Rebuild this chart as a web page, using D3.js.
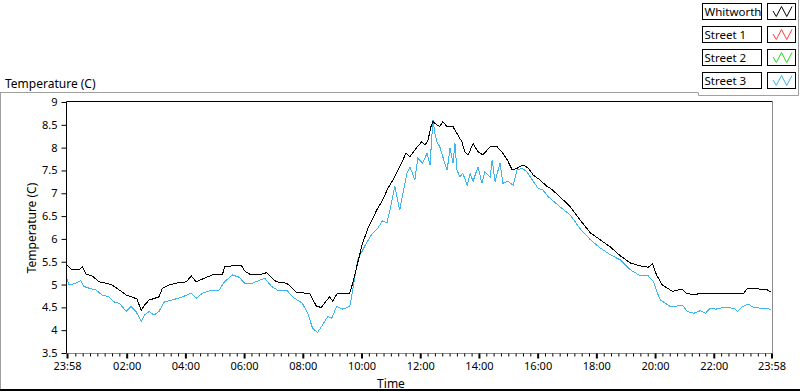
<!DOCTYPE html>
<html><head><meta charset="utf-8">
<script src="https://cdn.jsdelivr.net/npm/d3@7"></script>
<style>
body{margin:0;background:#fff}
svg{display:block}
text{font-family:"Noto Sans",sans-serif;fill:#000}
</style>
</head><body>
<svg id="c" width="800" height="392"></svg>
<script>
// ---------- data ----------
const seriesNames  = ["Whitworth", "Street 1", "Street 2", "Street 3"];
const seriesColors = ["#000000", "#ff3c3c", "#22dd22", "#3cb4f0"];

const whitworthTimes = ["23:58","00:08","00:23","00:29","00:37","00:49","01:04","01:18","01:30","01:45","01:59","02:11","02:21","02:30","02:36","02:46","03:06","03:13","03:27","03:41","04:02","04:12","04:22","04:43","04:55","05:16","05:20","05:36","05:55","06:01","06:11","06:31","06:46","06:52","07:06","07:27","07:39","07:47","08:14","08:28","08:38","08:49","08:55","09:01","09:11","09:36","09:42","09:52","10:02","10:13","10:31","10:43","10:54","11:04","11:18","11:31","11:39","11:49","12:03","12:10","12:16","12:22","12:26","12:34","12:40","12:46","12:55","13:07","13:15","13:25","13:31","13:38","13:48","13:58","14:08","14:23","14:37","14:47","14:58","15:08","15:18","15:30","15:41","15:51","16:05","16:19","16:26","16:46","17:07","17:27","17:48","18:08","18:29","18:49","19:10","19:30","19:46","19:55","20:03","20:11","20:15","20:25","20:36","20:46","20:56","21:02","21:19","21:33","23:01","23:09","23:36","23:50","23:58"];
const whitworthTemps = [5.43,5.32,5.32,5.39,5.23,5.19,5.06,5.03,4.99,4.88,4.77,4.73,4.68,4.43,4.55,4.66,4.73,4.92,4.99,5.03,5.06,5.19,5.06,5.16,5.21,5.23,5.39,5.41,5.41,5.30,5.23,5.21,5.26,5.19,5.06,5.03,4.92,4.82,4.81,4.52,4.50,4.66,4.73,4.64,4.81,4.81,5.03,5.47,5.90,6.23,6.63,6.85,7.11,7.29,7.58,7.88,7.80,7.95,8.13,8.06,8.17,8.46,8.57,8.50,8.46,8.57,8.46,8.46,8.31,8.13,7.91,7.84,8.09,7.91,7.84,8.02,8.02,7.91,7.73,7.51,7.55,7.62,7.55,7.40,7.29,7.15,7.11,6.92,6.70,6.41,6.13,5.98,5.82,5.63,5.47,5.41,5.38,5.45,5.21,5.06,4.99,4.92,4.85,4.88,4.90,4.82,4.77,4.81,4.81,4.92,4.90,4.88,4.83];

const street1Times = [];
const street1Temps = [];
const street2Times = [];
const street2Temps = [];

const street3Times = ["23:58","00:02","00:16","00:26","00:32","00:43","00:57","01:10","01:24","01:34","01:45","01:59","02:09","02:19","02:30","02:36","02:46","02:56","03:06","03:17","03:33","03:54","04:12","04:22","04:35","04:55","05:09","05:20","05:36","05:50","06:01","06:17","06:31","06:42","06:56","07:08","07:27","07:39","07:59","08:10","08:20","08:30","08:40","08:51","08:59","09:09","09:22","09:36","09:42","09:52","10:07","10:21","10:33","10:43","10:52","10:58","11:08","11:18","11:33","11:39","11:49","11:55","12:05","12:14","12:20","12:26","12:30","12:34","12:40","12:46","12:55","13:01","13:07","13:11","13:15","13:21","13:27","13:36","13:42","13:48","13:58","14:06","14:12","14:23","14:27","14:33","14:43","14:49","14:59","15:10","15:18","15:28","15:38","15:51","16:01","16:11","16:21","16:46","17:07","17:27","17:48","18:08","18:29","18:49","19:10","19:30","19:46","19:57","20:05","20:11","20:21","20:31","20:46","20:56","21:06","21:19","21:33","21:43","21:53","22:04","22:20","22:41","22:49","22:59","23:11","23:21","23:36","23:58"];
const street3Temps = [5.11,4.99,5.03,5.09,4.96,4.92,4.88,4.77,4.73,4.62,4.59,4.41,4.52,4.41,4.19,4.33,4.41,4.33,4.41,4.62,4.66,4.73,4.81,4.70,4.81,4.88,4.88,5.06,5.21,5.16,5.03,5.03,5.09,5.14,4.96,4.88,4.88,4.73,4.59,4.37,4.04,3.95,4.11,4.30,4.26,4.52,4.46,4.52,4.88,5.54,5.85,6.10,6.23,6.40,6.35,6.63,7.15,6.63,7.44,7.58,7.29,7.77,7.66,7.88,7.62,8.61,8.31,8.13,8.02,7.80,7.51,7.99,7.66,8.09,7.51,7.36,7.44,7.18,7.44,7.26,7.58,7.22,7.47,7.36,7.73,7.26,7.66,7.22,7.26,7.18,7.51,7.55,7.47,7.26,7.11,7.07,6.93,6.70,6.52,6.22,5.98,5.80,5.65,5.54,5.32,5.19,5.19,5.06,4.81,4.66,4.59,4.52,4.53,4.55,4.41,4.37,4.43,4.37,4.48,4.46,4.50,4.48,4.41,4.52,4.57,4.50,4.48,4.46];

const yTickValues = [3.5,4,4.5,5,5.5,6,6.5,7,7.5,8,8.5,9];
const xTickLabels = ["23:58","02:00","04:00","06:00","08:00","10:00","12:00","14:00","16:00","18:00","20:00","22:00","23:58"];
const chartTitle = "Temperature (C)";
const yAxisTitle = "Temperature (C)";
const xAxisTitle = "Time";

// ---------- helpers ----------
function parseSeq(arr){
  let day = 0, prev = -1;
  return arr.map(s => {
    const [h, m] = s.split(":").map(Number);
    const t = h*60 + m;
    if (prev >= 0 && t < prev) day++;
    prev = t;
    return new Date(2020, 0, 1 + day, h, m);
  });
}

const svg = d3.select("#c");
const L = 67, R = 771.5, T = 102, B = 353;

const xMajor = parseSeq(xTickLabels);
const x = d3.scaleTime().domain([xMajor[0], xMajor[xMajor.length-1]]).range([L, R]);
const y = d3.scaleLinear().domain([3.5, 9]).range([B, T]);

const series = [
  {name: seriesNames[0], color: seriesColors[0], t: parseSeq(whitworthTimes), v: whitworthTemps},
  {name: seriesNames[1], color: seriesColors[1], t: parseSeq(street1Times), v: street1Temps},
  {name: seriesNames[2], color: seriesColors[2], t: parseSeq(street2Times), v: street2Temps},
  {name: seriesNames[3], color: seriesColors[3], t: parseSeq(street3Times), v: street3Temps}
];

// ---------- panel chrome ----------
const grey = "#a0a0a0";
svg.append("line").attr("x1",0).attr("x2",698).attr("y1",92.5).attr("y2",92.5).attr("stroke",grey);
svg.append("line").attr("x1",0.5).attr("x2",0.5).attr("y1",92).attr("y2",390).attr("stroke",grey);
svg.append("rect").attr("x",0).attr("y",389).attr("width",800).attr("height",2).attr("fill","#000");
svg.append("path").attr("d","M698.5,92.5V95.5H798.5V0").attr("fill","none").attr("stroke",grey);

svg.append("text").attr("x",5).attr("y",88).attr("font-size",12).text(chartTitle);

// ---------- plot frame ----------
svg.append("rect").attr("x",L).attr("y",T).attr("width",R-L+1).attr("height",B-T).attr("fill","#fff");

// ---------- series ----------
const line = d3.line().x(d => x(d[0])).y(d => y(d[1]));
const plotG = svg.append("g");
[3,2,1,0].forEach(i => {
  const s = series[i];
  if (!s.v.length) return;
  plotG.append("path")
    .datum(s.t.map((t, k) => [t, s.v[k]]))
    .attr("d", line)
    .attr("fill","none")
    .attr("stroke", s.color)
    .attr("stroke-width",1)
    .attr("shape-rendering","crispEdges");
});

svg.append("path").attr("d",`M${L-0.5},${B}V${T-0.5}H${R+1}`).attr("fill","none").attr("stroke","#000");
svg.append("path").attr("d",`M${R+1},${T-0.5}V${B+0.5}H${L-0.5}`).attr("fill","none").attr("stroke","#8a8a8a");

// ---------- axes ----------
const minor = d3.timeMinute.every(15).range(x.domain()[0], x.domain()[1])
  .filter(d => !xMajor.some(m => Math.abs(m - d) < 60000*3));
const gMinor = svg.append("g").attr("transform",`translate(0,${B+0.5})`)
  .call(d3.axisBottom(x).tickValues(minor).tickSize(3).tickFormat(""));
gMinor.select(".domain").remove();
gMinor.selectAll(".tick line").attr("stroke","#000");

const gX = svg.append("g").attr("transform",`translate(0,${B+0.5})`)
  .call(d3.axisBottom(x).tickValues(xMajor).tickSize(5).tickFormat(d3.timeFormat("%H:%M")));
gX.select(".domain").remove();
gX.selectAll(".tick line").attr("stroke","#000").attr("stroke-width",2);
gX.selectAll(".tick text").attr("y",9).attr("font-size",11).attr("font-family","Noto Sans").attr("fill","#000");

const gY = svg.append("g").attr("transform",`translate(${L-0.5},0)`)
  .call(d3.axisLeft(y).tickValues(yTickValues).tickSize(5).tickPadding(4).tickFormat(d => String(d)));
gY.select(".domain").remove();
gY.selectAll(".tick line").attr("stroke","#000");
gY.selectAll(".tick text").attr("font-size",11).attr("font-family","Noto Sans").attr("fill","#000");

svg.append("text").attr("transform","translate(36,228) rotate(-90)").attr("text-anchor","middle")
  .attr("font-size",12).text(yAxisTitle);
svg.append("text").attr("x",391).attr("y",388).attr("text-anchor","middle")
  .attr("font-size",12).text(xAxisTitle);

// ---------- legend ----------
const lg = svg.append("g");
const swatchPts = [[0,0.45],[1,1],[2,0],[3,1],[4,0]];
series.forEach((s, i) => {
  const top = 3.5 + i*23;
  lg.append("rect").attr("x",702.5).attr("y",top).attr("width",59).attr("height",16)
    .attr("fill","#fff").attr("stroke","#000");
  lg.append("text").attr("x",704.5).attr("y",top+12.5).attr("font-size",11.5).text(s.name);
  lg.append("rect").attr("x",767.5).attr("y",top).attr("width",28).attr("height",16)
    .attr("fill","#fff").attr("stroke","#000");
  const sx = d3.scaleLinear().domain([0,4]).range([771, 792]);
  lg.append("path").attr("d", d3.line().x(p => sx(p[0]) - (p[0] === 0 ? -2 : 0)).y(p => top + 3 + p[1]*10)(swatchPts))
    .attr("fill","none").attr("stroke", s.color).attr("stroke-width",1);
});
</script>
</body></html>
